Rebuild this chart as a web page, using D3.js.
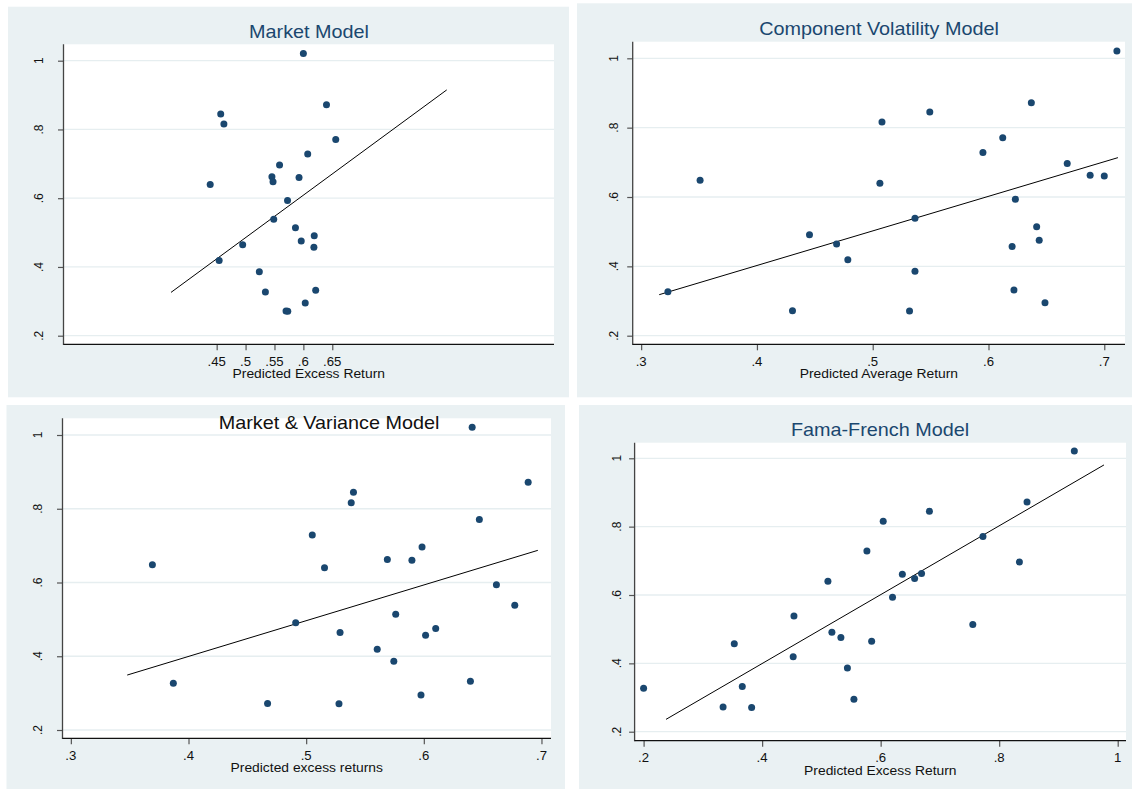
<!DOCTYPE html>
<html>
<head>
<meta charset="utf-8">
<script src="https://cdn.jsdelivr.net/npm/d3@7"></script>
<style>
  body { margin: 0; background: #ffffff; }
  text { font-family: "Liberation Sans", Arial, sans-serif; }
</style>
</head>
<body>
<div id="container"></div>
<script>
// --- DATA ---
// actual average returns of the 25 portfolios (y axis, same in all panels)
var actualReturn = [1.021, .872, .845, .816, .771, .7285, .6965, .6626, .6605, .648,
    .640, .5936, .5385, .514, .491, .4755, .4647, .457, .419, .3862,
    .327, .332, .295, .272, .271];

// predicted returns, one array per model (same portfolio order)
var predMarket = [.600, .640, .457, .4625, .656, .6075, .5588, .5456, .5925, .5475,
    .4388, .5726, .5487, .5863, .6188, .5963, .495, .6182, .4543, .5238,
    .5343, .6213, .6032, .570, .573];
var predComponentVol = [.7109, .637, .5493, .508, .6123, .5952, .668, .6878, .700, .3509,
    .5062, .6232, .5365, .6416, .4454, .6438, .4688, .6204, .4785, .5365,
    .3231, .622, .6488, .4307, .5318];
var predMarketVar = [.6411, .6887, .5402, .5383, .6472, .5052, .5985, .569, .5899, .3693,
    .5156, .6617, .6773, .5761, .4911, .6101, .5288, .6015, .5604, .5745,
    .3871, .6396, .5976, .4672, .5279];
var predFamaFrench = [.9268, .847, .6823, .6043, .7726, .5768, .8341, .669, .6366, .6573,
    .511, .620, .4537, .7555, .5177, .5329, .5848, .353, .4524, .5439,
    .200, .3665, .5549, .3341, .3823];

// fitted lines (start and end points)
var fitMarket = [[.371, .326], [.848, .915]];
var fitComponentVol = [[.3156, .3183], [.7118, .7135]];
var fitMarketVar = [[.3479, .349], [.6969, .6872]];
var fitFamaFrench = [[.2378, .2361], [.9768, .9805]];

// tick values
var yTicks = [.2, .4, .6, .8, 1];
var xTicksMarket = [.45, .5, .55, .6, .65];
var xTicksTenths = [.3, .4, .5, .6, .7];
var xTicksFamaFrench = [.2, .4, .6, .8, 1];

// --- style ---
var bgColor = "#eaf1f3";
var navy = "#1a476f";
var sx = 1.1; // text in the picture is a bit wider than its height suggests

function fmt(v) {
    return String(v).replace(/^0\./, ".");
}

var panels = [
    { title: "Market Model", titleColor: navy, titleX: 309, xLabel: "Predicted Excess Return",
      pred: predMarket, fit: fitMarket, xTicks: xTicksMarket, yLab: 21,
      bg: [8, 6.7, 561, 390.6], plot: [63.5, 554, 44.3, 344.3],
      xDomain: [.185, 1.0336], yDomain: [.175, 1.0477] },
    { title: "Component Volatility Model", titleColor: navy, titleX: 879, xLabel: "Predicted Average Return",
      pred: predComponentVol, fit: fitComponentVol, xTicks: xTicksTenths, yLab: 15,
      bg: [577, 3.3, 555, 394], plot: [632.7, 1125, 41.7, 344.3],
      xDomain: [.2927, .7179], yDomain: [.1752, 1.0479] },
    { title: "Market & Variance Model", titleColor: "#111111", titleX: 329, titleY: 429, xLabel: "Predicted excess returns",
      pred: predMarketVar, fit: fitMarketVar, xTicks: xTicksTenths, yLab: 21,
      bg: [6.5, 405, 558.5, 384], plot: [62.5, 551, 418.3, 738.3],
      xDomain: [.2929, .7081], yDomain: [.1775, 1.0453] },
    { title: "Fama-French Model", titleColor: navy, titleX: 880, xLabel: "Predicted Excess Return",
      pred: predFamaFrench, fit: fitFamaFrench, xTicks: xTicksFamaFrench, yLab: 14,
      bg: [579, 405, 553, 384], plot: [634.6, 1126, 442.7, 740.7],
      xDomain: [.1848, 1.014], yDomain: [.1737, 1.0456] }
];

var svg = d3.select("div#container")
    .append("svg")
    .attr("width", 1132)
    .attr("height", 789);

// text with a slight horizontal stretch
function addText(g, x, y, str, size, color, rotate) {
    return g.append("text")
        .attr("transform", "translate(" + x + "," + y + ") scale(" + sx + ",1)" + (rotate ? " rotate(-90)" : ""))
        .attr("text-anchor", "middle")
        .style("font-size", size + "px")
        .style("fill", color)
        .text(str);
}

panels.forEach(function (p) {
    var g = svg.append("g");
    var left = p.plot[0], right = p.plot[1], top = p.plot[2], bottom = p.plot[3];

    var x = d3.scaleLinear().domain(p.xDomain).range([left, right]);
    var y = d3.scaleLinear().domain(p.yDomain).range([bottom, top]);

    // panel background + plot region
    g.append("rect")
        .attr("x", p.bg[0]).attr("y", p.bg[1])
        .attr("width", p.bg[2]).attr("height", p.bg[3])
        .attr("fill", bgColor);
    g.append("rect")
        .attr("x", left).attr("y", top)
        .attr("width", right - left).attr("height", bottom - top)
        .attr("fill", "#ffffff");

    // gridlines
    g.selectAll(".grid")
        .data(yTicks)
        .enter()
        .append("line")
        .attr("x1", left).attr("x2", right)
        .attr("y1", d => y(d)).attr("y2", d => y(d))
        .attr("stroke", "#e6eef0")
        .attr("stroke-width", 1.3);

    // y axis
    var yAxis = g.append("g")
        .attr("transform", "translate(" + left + ",0)")
        .call(d3.axisLeft(y).tickValues(yTicks).tickSize(5.5).tickFormat(""));
    yAxis.select(".domain").remove();
    yAxis.selectAll("line").attr("stroke", "#555").attr("stroke-width", 1.2);
    g.append("line")
        .attr("x1", left).attr("x2", left)
        .attr("y1", top).attr("y2", bottom + 0.6)
        .attr("stroke", "#444").attr("stroke-width", 1.3);

    yTicks.forEach(function (t) {
        addText(g, left - p.yLab, y(t), fmt(t), 12, "#111", true);
    });

    // x axis
    var xAxis = g.append("g")
        .attr("transform", "translate(0," + bottom + ")")
        .call(d3.axisBottom(x).tickValues(p.xTicks).tickSize(6).tickFormat(""));
    xAxis.select(".domain").remove();
    xAxis.selectAll("line").attr("stroke", "#555").attr("stroke-width", 1.2);
    g.append("line")
        .attr("x1", left).attr("x2", right)
        .attr("y1", bottom).attr("y2", bottom)
        .attr("stroke", "#111").attr("stroke-width", 1.3);

    p.xTicks.forEach(function (t) {
        addText(g, x(t), bottom + 21.5, fmt(t), 12, "#111", false);
    });

    addText(g, (left + right) / 2, bottom + 34, p.xLabel, 12.6, "#111", false);

    // title
    addText(g, p.titleX, p.titleY || (top - 6.3), p.title, 18, p.titleColor, false);

    // fitted line
    g.append("path")
        .datum(p.fit)
        .attr("d", d3.line().x(d => x(d[0])).y(d => y(d[1])))
        .attr("fill", "none")
        .attr("stroke", "#000")
        .attr("stroke-width", 1);

    // points
    g.selectAll(".pt")
        .data(p.pred)
        .enter()
        .append("circle")
        .attr("cx", d => x(d))
        .attr("cy", (d, i) => y(actualReturn[i]))
        .attr("r", 3.5)
        .attr("fill", navy);
});
</script>
</body>
</html>
